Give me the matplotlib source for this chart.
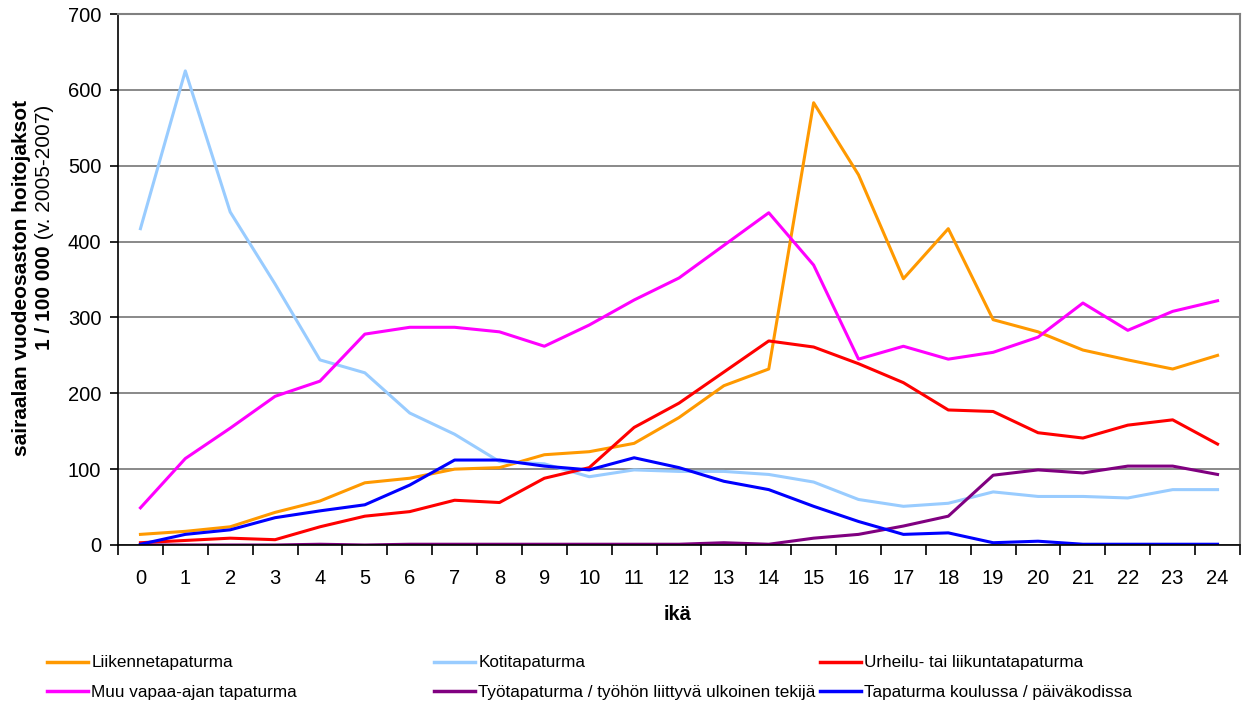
import matplotlib
matplotlib.use("Agg")
import matplotlib.pyplot as plt
from matplotlib.lines import Line2D

plt.rcParams['font.family'] = ['Liberation Sans', 'DejaVu Sans']

# data
ages = list(range(25))
liikenne = [14, 18, 24, 43, 58, 82, 88, 100, 102, 119, 123, 134, 168, 210, 232,
            583, 488, 351, 417, 297, 281, 257, 244, 232, 250]
koti = [417, 625, 439, 344, 244, 227, 174, 146, 110, 107, 90, 99, 97, 97, 93,
        83, 60, 51, 55, 70, 64, 64, 62, 73, 73]
urheilu = [3, 6, 9, 7, 24, 38, 44, 59, 56, 88, 102, 155, 187, 228, 269,
           261, 239, 214, 178, 176, 148, 141, 158, 165, 133]
muu = [49, 114, 154, 196, 216, 278, 287, 287, 281, 262, 290, 323, 352, 395, 438,
       369, 245, 262, 245, 254, 274, 319, 283, 308, 322]
tyo = [0, 0, 0, 0, 1, 0, 1, 1, 1, 1, 1, 1, 1, 3, 1,
       9, 14, 25, 38, 92, 99, 95, 104, 104, 93]
koulu = [1, 14, 20, 36, 45, 53, 79, 112, 112, 104, 99, 115, 102, 84, 73,
         51, 31, 14, 16, 3, 5, 1, 1, 1, 1]

names = ["Liikennetapaturma", "Kotitapaturma", "Urheilu- tai liikuntatapaturma",
         "Muu vapaa-ajan tapaturma", "Työtapaturma / työhön liittyvä ulkoinen tekijä",
         "Tapaturma koulussa / päiväkodissa"]
colors = ["#FF9900", "#99CCFF", "#FF0000", "#FF00FF", "#800080", "#0000FF"]
series = [liikenne, koti, urheilu, muu, tyo, koulu]

W, H = 1249, 704
fig = plt.figure(figsize=(W / 100, H / 100), dpi=100)
ax = fig.add_axes([118 / W, 1 - 545 / H, (1240 - 118) / W, (545 - 14) / H])

for vals, col, name in zip(series, colors, names):
    ax.plot(ages, vals, color=col, lw=2.2, label=name)

ax.set_xlim(-0.5, 24.5)
ax.set_ylim(0, 700)
ax.set_yticks(range(0, 701, 100))
ax.yaxis.grid(True, color='#808080', lw=1.3)
ax.set_axisbelow(True)

ax.set_xticks(ages)
ax.set_xticklabels([str(a) for a in ages])
ax.set_xticks([a - 0.5 for a in range(26)], minor=True)
ax.tick_params(axis='x', which='major', length=0, pad=17, labelsize=14.5)
ax.tick_params(axis='x', which='minor', length=7, width=1.2, color='black')
ax.tick_params(axis='y', length=6, width=1.2, pad=6, labelsize=14.5)

for s in ['top', 'right']:
    ax.spines[s].set_color('#808080')
    ax.spines[s].set_linewidth(1.5)
for s in ['left', 'bottom']:
    ax.spines[s].set_color('black')
    ax.spines[s].set_linewidth(1.2)

# y label, two lines with mixed weight
fig.text(22 / W, 1 - 278 / H, "sairaalan vuodeosaston hoitojaksot", rotation=90,
         ha='center', va='center', fontweight='bold', fontsize=15)
bold = fig.text(45 / W, 1 - 350 / H, "1 / 100 000", rotation=90, rotation_mode='anchor',
                ha='left', va='center', fontweight='bold', fontsize=15)
ax.annotate(" (v. 2005-2007)", xy=(0.5, 1), xycoords=bold, rotation=90,
            rotation_mode='anchor', ha='left', va='center', fontsize=15,
            annotation_clip=False)

fig.text(678 / W, 1 - 615 / H, "ikä", ha='center', va='center',
         fontweight='bold', fontsize=14.5)

# legend entries placed one by one
legend_pos = [(47, 663), (434, 663), (820, 663), (47, 692), (434, 692), (820, 692)]
for (px, py), col, name in zip(legend_pos, colors, names):
    fig.legend(handles=[Line2D([], [], color=col, lw=2.5)], labels=[name],
               loc='center left', bbox_to_anchor=(px / W, 1 - py / H),
               frameon=False, fontsize=12.3, handlelength=2.4, handletextpad=0.2,
               borderpad=0, borderaxespad=0)

fig.savefig("out.png", dpi=100)
